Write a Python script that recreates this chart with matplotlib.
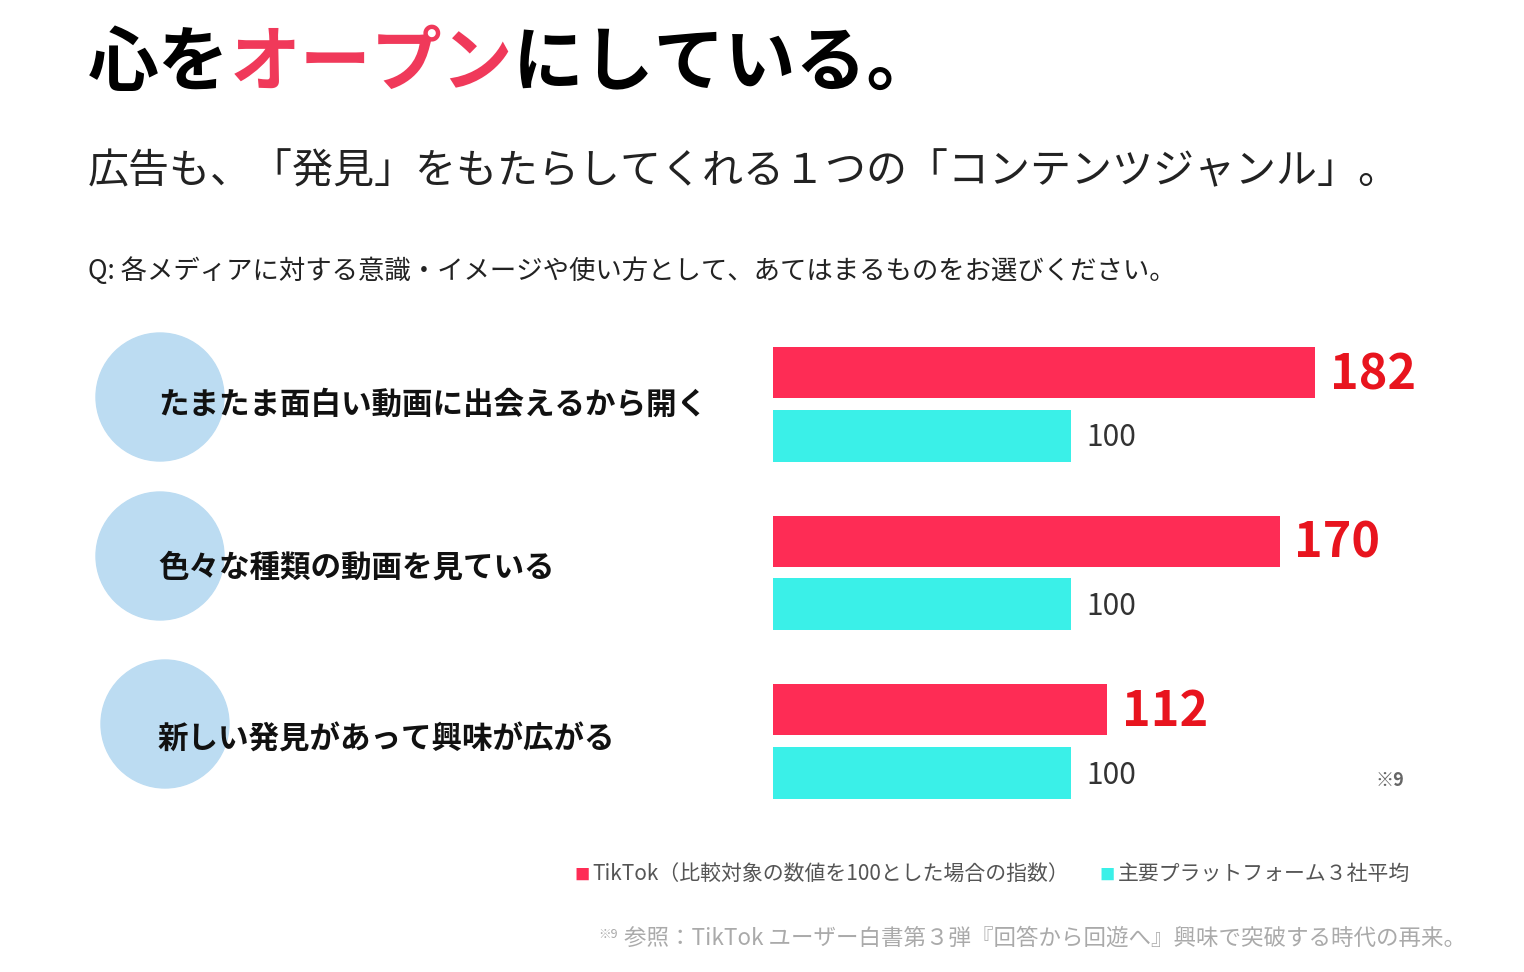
import matplotlib
matplotlib.use("Agg")
import matplotlib.pyplot as plt
from matplotlib.patches import Circle

plt.rcParams["font.family"] = "Noto Sans CJK JP"

categories = ["たまたま面白い動画に出会えるから開く", "色々な種類の動画を見ている", "新しい発見があって興味が広がる"]
tiktok = [182, 170, 112]
platform = [100, 100, 100]

PINK = "#fe2c55"
CYAN = "#3af0e8"
W, H = 1524, 972

fig = plt.figure(figsize=(W / 100, H / 100), dpi=100)
fig.patch.set_facecolor("white")

# overlay in pixel coords for decorations/text
ov = fig.add_axes([0, 0, 1, 1])
ov.set_xlim(0, W)
ov.set_ylim(H, 0)
ov.axis("off")

r = fig.canvas.get_renderer()
x = 88
for part, col in [("心を", "black"), ("オープン", "#f0395a"), ("にしている。", "black")]:
    t = ov.text(x, 64, part, fontsize=51, fontweight="bold", color=col, va="center", ha="left")
    x += t.get_window_extent(renderer=r).width

ov.text(88, 172, "広告も、「発見」をもたらしてくれる１つの「コンテンツジャンル」。",
        fontsize=29.5, color="#222222", va="center")
ov.text(88, 271, "Q: 各メディアに対する意識・イメージや使い方として、あてはまるものをお選びください。",
        fontsize=19, color="#222222", va="center")

circ = [(160, 397), (160, 556), (165, 724)]
lab_y = [405, 568, 740]
for (cx, cy), ly, lab in zip(circ, lab_y, categories):
    ov.add_patch(Circle((cx, cy), 64, color="#bcdcf2", zorder=1))
    ov.text(158, ly, lab, fontsize=22, fontweight="bold", color="#111111", va="center", zorder=2)

# bar axes: x 0 at 773px, ~2.98 px/unit
x0, x1 = 773, 1500
ax = fig.add_axes([x0 / W, 1 - 815 / H, (x1 - x0) / W, (815 - 330) / H])
ax.set_xlim(0, (x1 - x0) / 2.98)
ax.set_ylim(815, 330)
ax.axis("off")
for i, (a, b) in enumerate(zip(tiktok, platform)):
    yp = 373 + 168.5 * i
    yc = yp + 63
    ax.barh(yp, a, height=51, color=PINK)
    ax.barh(yc, b, height=52, color=CYAN)
    ax.text(a + 5, yp + 2, str(a), fontsize=35, fontweight="bold", color="#e8141e", va="center")
    ax.text(b + 5, yc + 2, str(b), fontsize=21.5, color="#333333", va="center")

ov.text(1376, 780, "※9", fontsize=13, fontweight="bold", color="#666666", va="center")

ov.text(574, 875, "■", fontsize=11, color=PINK, va="center")
ov.text(592, 874, "TikTok（比較対象の数値を100とした場合の指数）", fontsize=15, color="#555555", va="center")
ov.text(1099, 875, "■", fontsize=11, color=CYAN, va="center")
ov.text(1118, 874, "主要プラットフォーム３社平均", fontsize=15, color="#555555", va="center")

ov.text(598, 934, "※9", fontsize=9, color="#aaaaaa", va="center")
ov.text(1466, 938, "参照：TikTok ユーザー白書第３弾『回答から回遊へ』興味で突破する時代の再来。",
        fontsize=16.2, color="#aaaaaa", va="center", ha="right")

fig.savefig("out.png", dpi=100)
